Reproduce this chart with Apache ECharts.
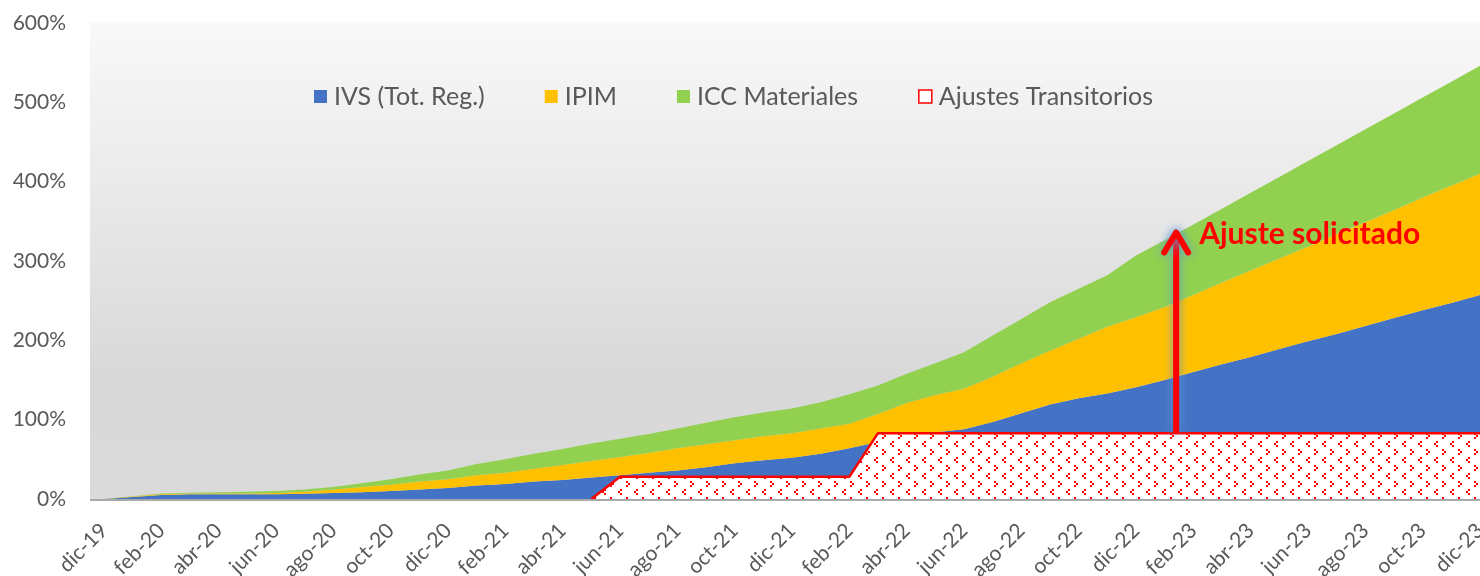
<!DOCTYPE html>
<html>
<head>
<meta charset="utf-8">
<script src="https://cdn.jsdelivr.net/npm/echarts@6/dist/echarts.min.js"></script>
<style>
  html, body { margin: 0; padding: 0; background: #fff; }
  #chart { width: 1480px; height: 576px; }
</style>
</head>
<body>
<div id="chart"></div>
<script>
// meses dic-19 .. dic-23
var months = ['dic-19','ene-20','feb-20','mar-20','abr-20','may-20','jun-20','jul-20','ago-20','sep-20','oct-20','nov-20',
              'dic-20','ene-21','feb-21','mar-21','abr-21','may-21','jun-21','jul-21','ago-21','sep-21','oct-21','nov-21',
              'dic-21','ene-22','feb-22','mar-22','abr-22','may-22','jun-22','jul-22','ago-22','sep-22','oct-22','nov-22',
              'dic-22','ene-23','feb-23','mar-23','abr-23','may-23','jun-23','jul-23','ago-23','sep-23','oct-23','nov-23','dic-23'];

// valores en % (apilados)
var ivs = [0,2.5,5,6,6,6,6,6.5,7.5,8.5,10,12,
           14,17,19,22,24,27,30,33,36,40,45,49,
           52,57,64,72,78,84,88,97,108,119,127,133,
           141,150,160,170,179,189,199,208,218,228,238,247,257];
var ipim = [0,0.5,1,1,1,1,1.5,2.5,4.5,6.5,8,10,
            11,13,14,16,19,21,23,25,28,29,29,30,
            31,32,31,35,43,47,51,57,63,68,75,84,
            88,92,97,103,109,114,119,126,131,136,142,148,153];
var icc = [0,0.5,1,1,1.5,2,2.5,3,3,5,7,9,
           11,14,17,19,20,22,23,24,25,27,29,30,
           31,33,37,36,37,40,46,52,56,61,63,65,
           78,84,89,93,98,103,108,112,117,122,126,131,136];
var ajustes = ['-','-','-','-','-','-','-','-','-','-','-','-',
               '-','-','-','-','-',0,28,28,28,28,28,28,
               28,28,28,83,83,83,83,83,83,83,83,83,
               83,83,83,83,83,83,83,83,83,83,83,83,83];

var yTicks = [0,100,200,300,400,500,600];

// flecha "Ajuste solicitado"
var arrowIdx = 37.4, arrowFrom = 83, arrowTo = 341;

function makePattern() {
    var c = document.createElement('canvas');
    c.width = 16; c.height = 16;
    var g = c.getContext('2d');
    g.fillStyle = '#ffffff';
    g.fillRect(0, 0, 16, 16);
    g.fillStyle = '#ff0000';
    // '>'
    g.fillRect(2, 1, 2, 2); g.fillRect(4, 3, 2, 2); g.fillRect(2, 5, 2, 2);
    // '<'
    g.fillRect(12, 9, 2, 2); g.fillRect(10, 11, 2, 2); g.fillRect(12, 13, 2, 2);
    return c;
}

var chart = echarts.init(document.getElementById('chart'));
var font = 'Lato, "Open Sans", sans-serif';

function areaSeries(name, data, color) {
    return {
        name: name,
        type: 'line',
        stack: 'total',
        data: data,
        symbol: 'none',
        lineStyle: { width: 0 },
        itemStyle: { color: color },
        areaStyle: { color: color, opacity: 1 },
        z: 2
    };
}

var bgRect = {
    type: 'rect',
    z: -10,
    shape: { x: 90, y: 22, width: 1390, height: 477 },
    style: {
        fill: new echarts.graphic.LinearGradient(0, 0, 0, 1, [
            { offset: 0, color: '#f9f9f9' },
            { offset: 0.75, color: '#d8d8d8' },
            { offset: 1, color: '#dadada' }
        ])
    },
    silent: true
};
var baseLine = {
    type: 'line',
    z: 5,
    shape: { x1: 90, y1: 500, x2: 1480, y2: 500 },
    style: { stroke: '#8c8c8c', lineWidth: 1.5 },
    silent: true
};

var option = {
    animation: false,
    textStyle: { fontFamily: font },
    graphic: [bgRect, baseLine],
    legend: {
        left: 309,
        top: 79,
        itemWidth: 13,
        itemHeight: 13,
        itemGap: 60,
        textStyle: { fontSize: 25, color: '#595959', fontFamily: font, padding: [0, 0, 0, 2] },
        data: [
            { name: 'IVS (Tot. Reg.)', icon: 'rect' },
            { name: 'IPIM', icon: 'rect' },
            { name: 'ICC Materiales', icon: 'rect' },
            { name: 'Ajustes Transitorios', icon: 'rect',
              itemStyle: { color: '#ffffff', borderColor: '#ff0000', borderWidth: 1.5 } }
        ]
    },
    grid: { left: 104, right: 0, top: 23, bottom: 77, outerBoundsMode: 'none', containLabel: false },
    xAxis: {
        type: 'category',
        data: months,
        boundaryGap: false,
        axisLine: { show: false },
        axisTick: { show: false },
        axisLabel: {
            interval: 1,
            rotate: 45,
            margin: 28,
            fontSize: 21,
            color: '#595959',
            fontFamily: font,
            hideOverlap: false
        }
    },
    yAxis: {
        type: 'value',
        min: yTicks[0],
        max: yTicks[yTicks.length - 1],
        interval: 100,
        axisLine: { show: false },
        axisTick: { show: false },
        splitLine: { show: false },
        axisLabel: {
            formatter: '{value}%',
            margin: 38,
            fontSize: 21,
            color: '#595959',
            fontFamily: font
        }
    },
    series: [
        areaSeries('IVS (Tot. Reg.)', ivs, '#4472c4'),
        areaSeries('IPIM', ipim, '#ffc000'),
        areaSeries('ICC Materiales', icc, '#92d050'),
        {
            name: 'Ajustes Transitorios',
            type: 'line',
            data: ajustes,
            symbol: 'none',
            z: 3,
            lineStyle: { color: '#ff0000', width: 2.5 },
            itemStyle: { color: '#ff0000' },
            areaStyle: { color: { image: makePattern(), repeat: 'repeat' }, opacity: 1 }
        }
    ]
};
chart.setOption(option);

// flecha y texto de anotacion
var pA = chart.convertToPixel({ gridIndex: 0 }, [Math.floor(arrowIdx), arrowFrom]);
var pB = chart.convertToPixel({ gridIndex: 0 }, [Math.ceil(arrowIdx), arrowTo]);
var ax = pA[0] + (pB[0] - pA[0]) * (arrowIdx - Math.floor(arrowIdx));
var y0 = pA[1], y1 = pB[1];
var glow = { shadowBlur: 10, shadowColor: '#5b9bd5' };

chart.setOption({
    graphic: [bgRect, baseLine, {
        type: 'line',
        z: 100,
        silent: true,
        shape: { x1: ax, y1: y0, x2: ax, y2: y1 + 3 },
        style: { stroke: '#ff0000', lineWidth: 6, shadowBlur: glow.shadowBlur, shadowColor: glow.shadowColor }
    }, {
        type: 'polyline',
        z: 100,
        silent: true,
        shape: { points: [[ax - 12, y1 + 24], [ax, y1 + 4], [ax + 12, y1 + 24]] },
        style: { stroke: '#ff0000', fill: null, lineWidth: 6, lineCap: 'round', lineJoin: 'round',
                 shadowBlur: glow.shadowBlur, shadowColor: glow.shadowColor }
    }, {
        type: 'text',
        z: 100,
        silent: true,
        x: ax + 23,
        y: y1 + 6,
        style: {
            text: 'Ajuste solicitado',
            fill: '#ff0000',
            fontSize: 30,
            fontWeight: 'bold',
            fontFamily: font,
            verticalAlign: 'middle'
        }
    }]
});
</script>
</body>
</html>
